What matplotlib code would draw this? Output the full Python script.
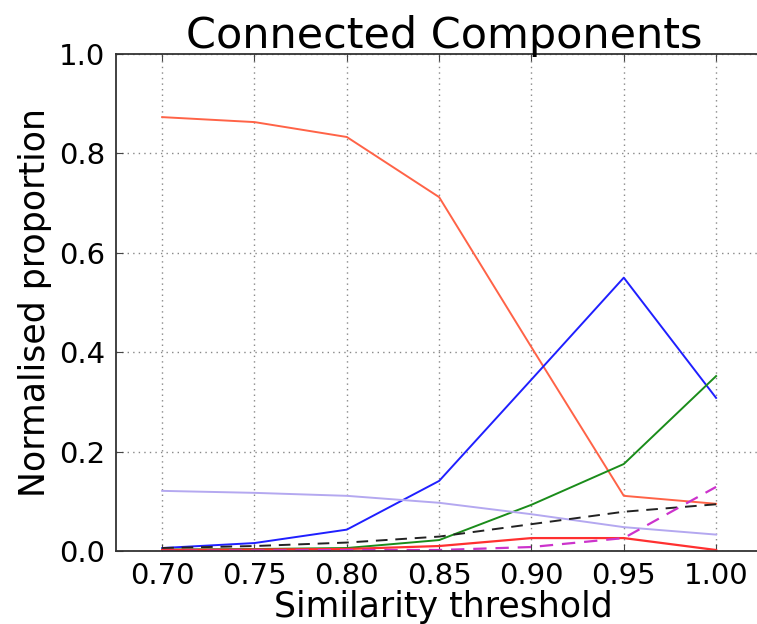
import numpy as np
import matplotlib.pyplot as plt

# similarity thresholds
thresholds = [0.70, 0.75, 0.80, 0.85, 0.90, 0.95, 1.00]

# normalised proportions per series
tomato_vals = [0.873, 0.863, 0.833, 0.712, 0.41, 0.111, 0.095]
blue_vals = [0.006, 0.016, 0.043, 0.141, 0.345, 0.55, 0.308]
green_vals = [0.003, 0.004, 0.006, 0.022, 0.093, 0.175, 0.352]
lavender_vals = [0.121, 0.117, 0.111, 0.097, 0.074, 0.048, 0.033]
black_vals = [0.006, 0.010, 0.017, 0.029, 0.054, 0.079, 0.094]
red_vals = [0.002, 0.003, 0.004, 0.010, 0.026, 0.026, 0.002]
magenta_vals = [0.0, 0.001, 0.002, 0.002, 0.008, 0.026, 0.129]

fig = plt.figure(figsize=(7.57, 6.24), dpi=100)
# axes run past the right edge of the picture, like the reference crop
ax = fig.add_axes([116/757, 73/624, 655.5/757, 497/624])

ax.plot(thresholds, tomato_vals, color='#ff6347', lw=1.4)
ax.plot(thresholds, blue_vals, color='#1f1fff', lw=1.4)
ax.plot(thresholds, green_vals, color='#1a8c1a', lw=1.4)
ax.plot(thresholds, lavender_vals, color='#b4a8f0', lw=1.4)
ax.plot(thresholds, black_vals, color='#222222', lw=1.4, ls='--', dashes=(6, 4))
ax.plot(thresholds, red_vals, color='#ff3030', lw=1.6)
ax.plot(thresholds, magenta_vals, color='#cc33cc', lw=1.6, ls='--', dashes=(6, 4))

ax.set_xlim(0.675, 1.03)
ax.set_ylim(0.0, 1.0)
ax.set_xticks(thresholds)
ax.set_xticklabels([f'{t:.2f}' for t in thresholds])
ax.set_yticks([0.0, 0.2, 0.4, 0.6, 0.8, 1.0])
ax.set_yticklabels([f'{v:.1f}' for v in [0.0, 0.2, 0.4, 0.6, 0.8, 1.0]])
ax.tick_params(direction='in', top=True, right=False, labelsize=21, length=5,
               pad=8, color='#444444')
ax.grid(True, ls=(0, (1, 3)), color='#888888', lw=1.0)
for s in ax.spines.values():
    s.set_linewidth(1.3)
    s.set_color('#333333')
ax.spines['right'].set_visible(False)

ax.set_title('Connected Components', fontsize=31, pad=4)
ax.set_xlabel('Similarity threshold', fontsize=25, labelpad=0)
ax.set_ylabel('Normalised proportion', fontsize=25, labelpad=5)

fig.savefig('out.png', dpi=100)
